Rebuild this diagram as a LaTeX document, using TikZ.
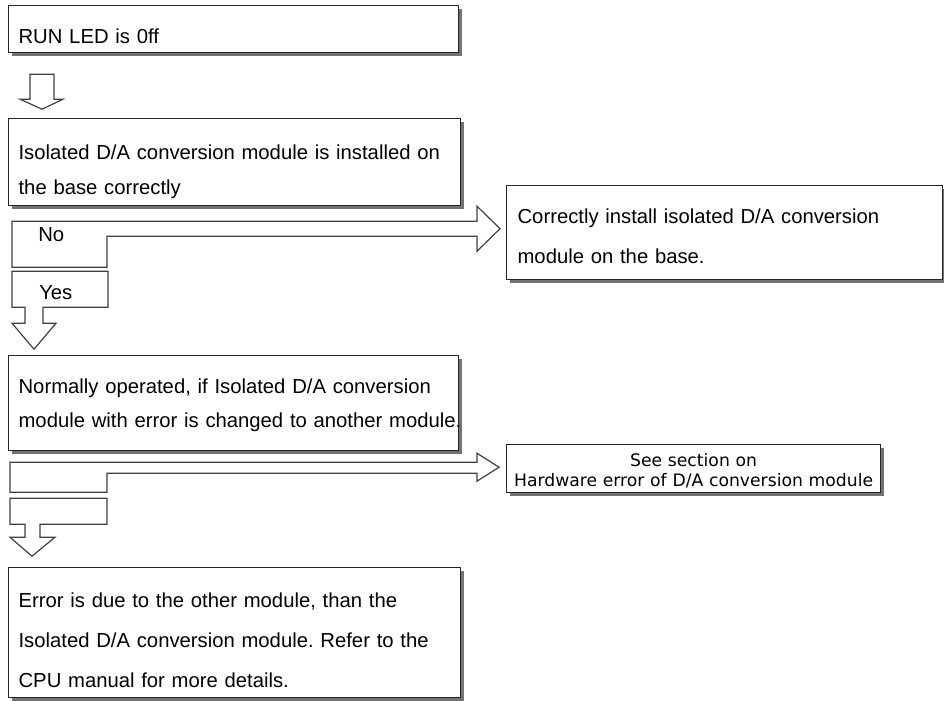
\documentclass[tikz,border=0pt]{standalone}
\usepackage{fontspec}
\setmainfont{Liberation Sans}
\newfontfamily\notefont{DejaVu Sans}
\usepackage{tikz}
\usetikzlibrary{calc,shadows}
\frenchspacing
\newcommand{\boxfont}[1]{\fontsize{15.2pt}{#1}\selectfont\hyphenpenalty=10000}

\tikzset{
  stepbox/.style={draw=black!85, line width=0.9pt, fill=white, anchor=north west,
    inner ysep=0pt, inner xsep=7.5pt, align=left,
    drop shadow={shadow xshift=2.2pt, shadow yshift=-2.2pt, fill=black!55, opacity=1}},
  blockarrow/.style={draw=black!75, line width=0.9pt, fill=white},
  answer/.style={anchor=base west, inner sep=0pt, font=\boxfont{18pt}},
}

\begin{document}
\begin{tikzpicture}[x=0.75pt,y=-0.75pt]
  \useasboundingbox (0,0) rectangle (944,700);
  \node[stepbox, text width=322.5pt, text height=28.5pt, text depth=6.75pt,
    font=\boxfont{20pt}] (led) at (8,5) {RUN LED is 0ff};
  \node[stepbox, text width=324pt, text height=30.75pt, text depth=34.5pt,
    font=\boxfont{26.25pt}] (mounted) at (8,118)
    {Isolated D/A conversion module is installed on\\the base correctly};
  \node[stepbox, inner xsep=8.25pt, text width=310.5pt, text height=28.5pt, text depth=42pt,
    font=\boxfont{30pt}] (install) at (506,185)
    {Correctly install isolated D/A conversion\\module on the base.};
  \node[stepbox, text width=322.5pt, text height=28.5pt, text depth=42.75pt,
    font=\boxfont{25.5pt}] (swap) at (8,355)
    {Normally operated, if Isolated D/A conversion\\\mbox{module with error is changed to another module.}};
  \node[stepbox, align=center, inner xsep=3pt, text width=274.5pt, text height=16.5pt,
    text depth=19.5pt, font={\notefont\fontsize{12.9pt}{15pt}\selectfont}] (hwerr) at (506,444)
    {See section on\\Hardware error of D/A conversion module};
  \node[stepbox, text width=324pt, text height=30pt, text depth=67.5pt,
    font=\boxfont{30pt}] (other) at (8,567)
    {Error is due to the other module, than the\\Isolated D/A conversion module. Refer to the\\CPU manual for more details.};

  \draw[blockarrow] ($(led.south west)+(22,21)$) -- ++(24,0) -- ++(0,25) -- ++(9,0)
    -- ++(-21,10) -- ++(-22,-10) -- ++(10,0) -- cycle;
  \draw[blockarrow] ($(mounted.south west)+(4,15)$) -- ++(465,0) -- ++(0,-15) -- ++(23,22.5)
    -- ++(-23,22.5) -- ++(0,-15) -- ++(-370,0) -- ++(0,31) -- ++(-95,0) -- cycle;
  \draw[blockarrow] ($(mounted.south west)+(4,65)$) -- ++(96,0) -- ++(0,36) -- ++(-65,0)
    -- ++(0,16) -- ++(13,0) -- ++(-22,26) -- ++(-22,-26) -- ++(13,0) -- ++(0,-16) -- ++(-13,0) -- cycle;
  \node[answer] (no) at (38,241) {No};
  \node[answer] (yes) at (39,299) {Yes};

  \draw[blockarrow] ($(swap.south west)+(2,11)$) -- ++(467,0) -- ++(0,-9) -- ++(22,14)
    -- ++(-22,14) -- ++(0,-8) -- ++(-370,0) -- ++(0,19) -- ++(-97,0) -- cycle;
  \draw[blockarrow] ($(swap.south west)+(2,47)$) -- ++(97,0) -- ++(0,26) -- ++(-67,0)
    -- ++(0,13) -- ++(15,0) -- ++(-23,19) -- ++(-22,-19) -- ++(15,0) -- ++(0,-13) -- ++(-15,0) -- cycle;
\end{tikzpicture}
\end{document}
